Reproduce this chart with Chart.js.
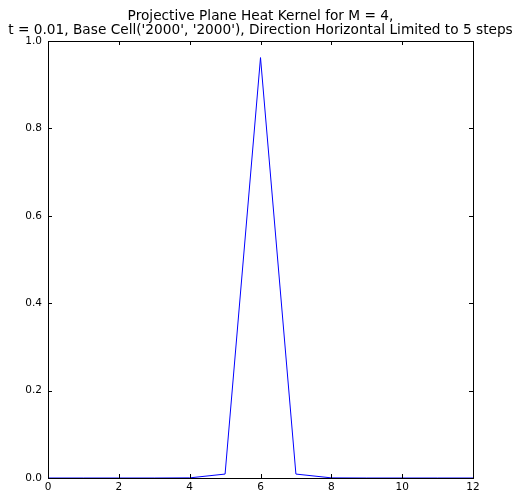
<!DOCTYPE html>
<html>
<head>
<meta charset="utf-8">
<script src="https://cdn.jsdelivr.net/npm/chart.js@4"></script>
<style>
  html, body { margin: 0; padding: 0; background: #fff; }
  #wrap { width: 516px; height: 498px; }
</style>
</head>
<body>
<div id="wrap"><canvas id="chartKernel" width="516" height="498"></canvas></div>
<script>
// Datos de la grafica
const pasos = [0, 1, 2, 3, 4, 5, 6, 7, 8, 9, 10, 11, 12];
const calor = [0, 0, 0, 0, 0.0003, 0.009, 0.962, 0.009, 0.0003, 0, 0, 0, 0];
const titulo = ['Projective Plane Heat Kernel for M = 4,',
  "t = 0.01, Base Cell('2000', '2000'), Direction Horizontal Limited to 5 steps"];

const fuente = '"DejaVu Sans", sans-serif';

// Marco y ticks hacia adentro (estilo matplotlib)
const marcoPlugin = {
  id: 'marco',
  afterDraw(chart) {
    const { ctx, chartArea: a, scales } = chart;
    ctx.save();
    ctx.strokeStyle = '#000';
    ctx.lineWidth = 1;
    ctx.strokeRect(Math.round(a.left) + 0.5, Math.round(a.top) + 0.5,
      Math.round(a.right - a.left), Math.round(a.bottom - a.top));
    const len = 4;
    ctx.beginPath();
    scales.x.ticks.forEach(t => {
      const x = Math.round(scales.x.getPixelForValue(t.value)) + 0.5;
      ctx.moveTo(x, a.bottom); ctx.lineTo(x, a.bottom - len);
      ctx.moveTo(x, a.top); ctx.lineTo(x, a.top + len);
    });
    scales.y.ticks.forEach(t => {
      const y = Math.round(scales.y.getPixelForValue(t.value)) + 0.5;
      ctx.moveTo(a.left, y); ctx.lineTo(a.left + len, y);
      ctx.moveTo(a.right, y); ctx.lineTo(a.right - len, y);
    });
    ctx.stroke();
    // Titulo centrado sobre el area de la grafica
    ctx.fillStyle = '#000';
    ctx.font = '13.7px ' + fuente;
    ctx.textAlign = 'center';
    ctx.textBaseline = 'alphabetic';
    const cx = (a.left + a.right) / 2;
    ctx.fillText(titulo[0], cx, 20);
    ctx.fillText(titulo[1], cx, 34);
    ctx.restore();
  }
};

const ctx = document.getElementById('chartKernel').getContext('2d');

const chartKernel = new Chart(ctx, {
  type: 'line',
  data: {
    labels: pasos,
    datasets: [{
      label: 'Heat kernel',
      data: pasos.map((p, i) => ({ x: p, y: calor[i] })),
      borderColor: '#0000ff',
      borderWidth: 1,
      pointRadius: 0,
      tension: 0,
      fill: false
    }]
  },
  options: {
    responsive: false,
    animation: false,
    layout: { padding: { left: 0, right: 43, top: 41, bottom: 0 } },
    plugins: {
      legend: { display: false },
      title: { display: false },
      tooltip: { enabled: false }
    },
    scales: {
      x: {
        type: 'linear',
        min: 0,
        max: 12,
        grid: { display: false, drawTicks: false },
        border: { display: false },
        ticks: {
          stepSize: 2,
          padding: 3,
          maxRotation: 0,
          color: '#000',
          font: { family: fuente, size: 10.5 }
        },
        afterFit(s) { s.height = 20; }
      },
      y: {
        min: 0,
        max: 1,
        grid: { display: false, drawTicks: false },
        border: { display: false },
        ticks: {
          stepSize: 0.2,
          padding: 6,
          color: '#000',
          font: { family: fuente, size: 10.5 },
          callback: v => v.toFixed(1)
        },
        afterFit(s) { s.width = 48; }
      }
    }
  },
  plugins: [marcoPlugin]
});
</script>
</body>
</html>
